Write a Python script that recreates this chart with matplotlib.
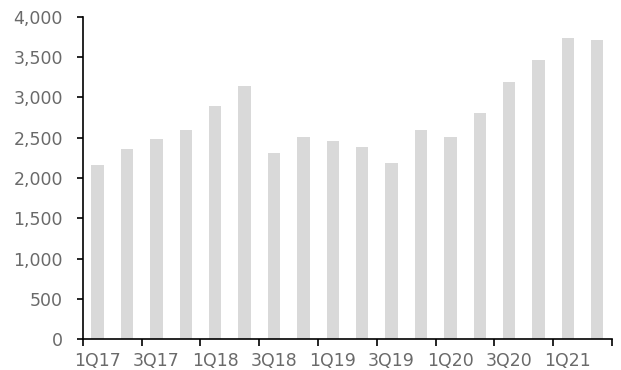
import matplotlib
matplotlib.use("Agg")
import matplotlib.pyplot as plt
from matplotlib.ticker import FuncFormatter, FixedLocator

quarters = ["1Q17", "2Q17", "3Q17", "4Q17", "1Q18", "2Q18", "3Q18", "4Q18",
            "1Q19", "2Q19", "3Q19", "4Q19", "1Q20", "2Q20", "3Q20", "4Q20",
            "1Q21", "2Q21"]
values = [2160, 2355, 2480, 2600, 2895, 3145, 2308, 2505,
          2455, 2380, 2185, 2600, 2505, 2800, 3195, 3460,
          3732, 3707]
yticks = [0, 500, 1000, 1500, 2000, 2500, 3000, 3500, 4000]

plt.rcParams['font.family'] = ['DejaVu Sans']
fig = plt.figure(figsize=(6.21, 3.70), dpi=100)
ax = fig.add_axes([0.1335, 0.083, 0.852, 0.872])

x = list(range(len(quarters)))
ax.bar(x, values, width=0.42, color='#d9d9d9', zorder=2)

ax.set_xlim(-0.5, len(quarters) - 0.5)
ax.set_ylim(0, 4000)
ax.set_yticks(yticks)
ax.yaxis.set_major_formatter(FuncFormatter(lambda v, p: f"{int(v):,}"))

# boundary ticks every two quarters, labels on odd quarters
bounds = [i - 0.5 for i in range(0, len(quarters) + 1, 2)]
ax.xaxis.set_major_locator(FixedLocator(bounds))
ax.set_xticklabels([""] * len(bounds))
ax.xaxis.set_minor_locator(FixedLocator(x[::2]))
ax.set_xticklabels(quarters[::2], minor=True)

txt = '#6a6a6a'
ax.tick_params(axis='x', which='major', length=5, width=1.2, direction='out', color='black')
ax.tick_params(axis='x', which='minor', length=0, labelsize=12.5, labelcolor=txt, pad=9)
ax.tick_params(axis='y', length=4, width=1.2, direction='out', color='black',
               labelsize=12.5, labelcolor=txt, pad=10.5)

for s in ['top', 'right']:
    ax.spines[s].set_visible(False)
for s in ['left', 'bottom']:
    ax.spines[s].set_linewidth(1.2)
    ax.spines[s].set_color('black')

fig.savefig("out.png", dpi=100)
